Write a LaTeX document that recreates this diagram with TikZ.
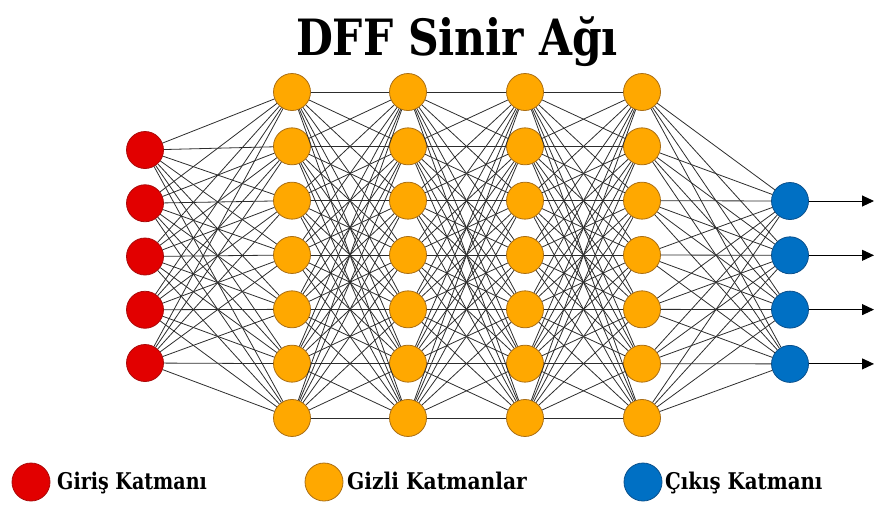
\documentclass[tikz,border=0pt]{standalone}
\usepackage{fontspec}
\setmainfont{DejaVu Serif}
\usetikzlibrary{arrows.meta}
\definecolor{inred}{RGB}{226,0,0}
\definecolor{inredline}{RGB}{170,10,10}
\definecolor{hidorange}{RGB}{255,168,0}
\definecolor{hidorangeline}{RGB}{170,110,20}
\definecolor{outblue}{RGB}{0,112,196}
\definecolor{outblueline}{RGB}{10,80,140}
\definecolor{wire}{RGB}{45,45,45}
% bold serif text, narrowed to a tighter set width
\newcommand{\narrowbold}[2]{\scalebox{#1}[1]{\bfseries #2}}
\begin{document}
\begin{tikzpicture}[x=1pt,y=-1pt,
  neuron/.style={circle, minimum size=37pt, inner sep=0pt, line width=0.8pt},
  inneuron/.style={neuron, fill=inred, draw=inredline},
  hidneuron/.style={neuron, fill=hidorange, draw=hidorangeline},
  outneuron/.style={neuron, fill=outblue, draw=outblueline},
  wirestyle/.style={draw=wire, line width=0.8pt},
  outarrow/.style={draw=black, line width=0.9pt, -{Triangle[length=12pt,width=11pt]}},
  legendtext/.style={anchor=base west, inner sep=0pt, font=\fontsize{23}{26}\selectfont},
  legenddot/.style={circle, minimum size=38pt, inner sep=0pt, line width=0.8pt}]
\useasboundingbox (0,0) rectangle (875,504);

% title
\node[anchor=base, inner sep=0pt, font=\fontsize{50}{56}\selectfont] (title) at (457,55) {\narrowbold{0.85}{DFF Sinir Ağı}};

% input layer
\foreach \i in {1,...,5}
  \node[inneuron] (in\i) at (145, {150+53.25*(\i-1)}) {};

% hidden layers
\foreach \l/\x in {1/292, 2/408, 3/525, 4/642}
  \foreach \j in {1,...,7}
    \node[hidneuron] (h\l-\j) at (\x, {92+54.33*(\j-1)}) {};

% output layer
\foreach \k in {1,...,4}
  \node[outneuron] (out\k) at (790, {201+54.3*(\k-1)}) {};

% input -> first hidden layer
\foreach \i in {1,...,5}
  \foreach \j in {1,...,7}
    \draw[wirestyle] (in\i) -- (h1-\j);

% hidden -> hidden
\foreach \l/\m in {1/2, 2/3, 3/4}
  \foreach \i in {1,...,7}
    \foreach \j in {1,...,7}
      \draw[wirestyle] (h\l-\i) -- (h\m-\j);

% last hidden -> output
\foreach \i in {1,...,7}
  \foreach \k in {1,...,4}
    \draw[wirestyle] (h4-\i) -- (out\k);

% output arrows
\foreach \k in {1,...,4} {
  \coordinate (end\k) at (874, {201+54.3*(\k-1)});
  \draw[outarrow] (out\k) -- (end\k);
}

% legend
\node[legenddot, fill=inred, draw=inredline] (leg1) at (31,482) {};
\node[legendtext] (legt1) at (57,489) {\narrowbold{0.83}{Giriş Katmanı}};
\node[legenddot, fill=hidorange, draw=hidorangeline] (leg2) at (324,482) {};
\node[legendtext] (legt2) at (347,489) {\narrowbold{0.88}{Gizli Katmanlar}};
\node[legenddot, fill=outblue, draw=outblueline] (leg3) at (643,482) {};
\node[legendtext] (legt3) at (665,489) {\narrowbold{0.86}{Çıkış Katmanı}};
\end{tikzpicture}
\end{document}
